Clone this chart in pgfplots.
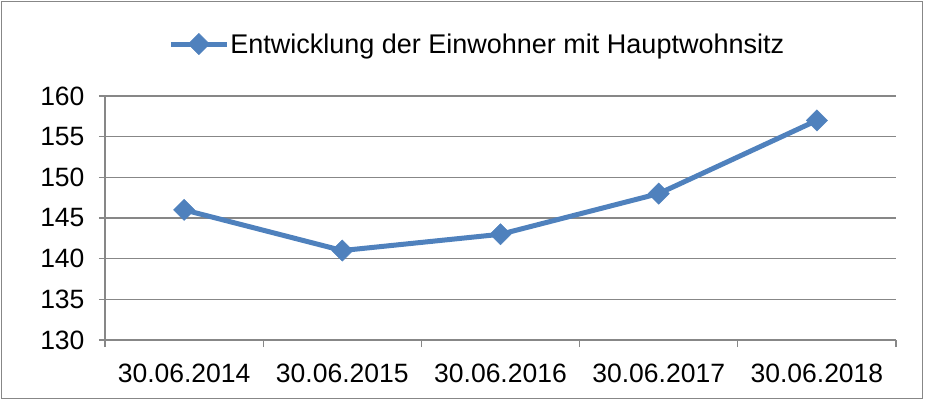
\documentclass[border=0pt]{standalone}
\usepackage{pgfplots}
\pgfplotsset{compat=1.18}
\usepackage{fontspec}
\setmainfont{Liberation Sans}
\definecolor{ser}{HTML}{4F81BD}
\definecolor{gr}{HTML}{878787}
\begin{document}
\begin{tikzpicture}[x=1pt,y=1pt]
\useasboundingbox (0,0) rectangle (925,400);
\draw[gr, line width=1pt] (1.5,1.5) rectangle (922.5,398);
\begin{axis}[
  at={(105pt,60pt)}, anchor=south west,
  scale only axis, width=791pt, height=244pt,
  xmin=-0.5, xmax=4.5, ymin=130, ymax=160,
  ytick={130,135,...,160},
  xtick={0,1,2,3,4},
  xticklabels={30.06.2014,30.06.2015,30.06.2016,30.06.2017,30.06.2018},
  minor xtick={-0.5,0.5,1.5,2.5,3.5,4.5},
  major x tick style={draw=none},
  minor tick length=7pt, major tick length=6pt,
  tick align=outside,
  axis x line*=bottom, axis y line*=left,
  axis line style={gr, line width=1.3pt, -},
  tick style={gr, line width=1.3pt},
  ymajorgrids, grid style={gr, line width=1.3pt},
  ticklabel style={font=\fontsize{26.5}{30}\selectfont},
  xticklabel style={yshift=-14pt},
  yticklabel style={xshift=-11pt},
  /pgf/number format/assume math mode=true,
  legend style={at={(0.47,1.213)}, anchor=center, draw=none, font=\fontsize{27}{30}\selectfont, inner sep=0pt, nodes={inner sep=1pt}},
  legend image code/.code={\draw[#1, mark repeat=2, mark phase=2] plot coordinates {(0pt,0pt) (28pt,0pt) (56pt,0pt)};},
  clip=false,
]
\addplot[ser, line width=5pt, mark=square*, mark size=7.5pt, mark options={rotate=45, line width=0.5pt, fill=ser, draw=ser}]
  coordinates {(0,146) (1,141) (2,143) (3,148) (4,157)};
\addlegendentry{Entwicklung der Einwohner mit Hauptwohnsitz}
\end{axis}
\end{tikzpicture}
\end{document}
